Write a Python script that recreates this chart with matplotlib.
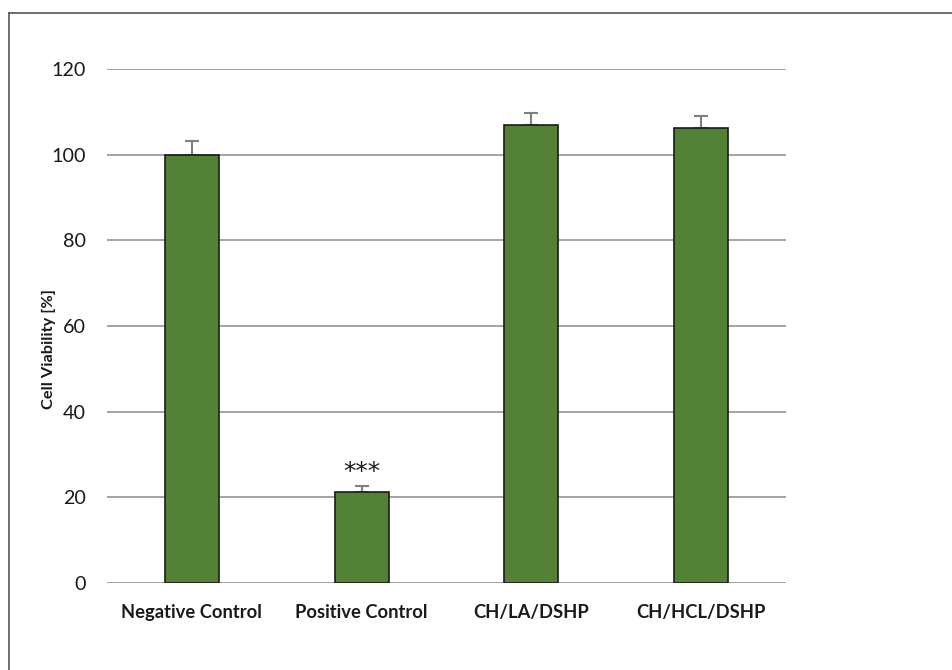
import matplotlib
matplotlib.use("Agg")
import matplotlib.pyplot as plt
from matplotlib.lines import Line2D
import numpy as np

categories = ["Negative Control", "Positive Control", "CH/LA/DSHP", "CH/HCL/DSHP"]
values = [100.0, 21.3, 106.9, 106.2]
errors = [3.2, 1.3, 2.9, 2.9]
yticks = [0, 20, 40, 60, 80, 100, 120]

plt.rcParams['font.family'] = ['Lato', 'DejaVu Sans']

fig = plt.figure(figsize=(9.53, 6.7), dpi=100)
ax = fig.add_axes([107/953, 1-582.7/670, (786-107)/953, (582.7-69.3)/670])

x = np.arange(len(categories))
ax.bar(x, values, width=0.318, color="#538135", edgecolor="#1a1a1a", linewidth=1.2, zorder=3)
ax.errorbar(x, values, yerr=[np.zeros(len(errors)), errors], fmt='none',
            ecolor="#7f7f7f", elinewidth=1.5, capsize=4.8, capthick=1.5, zorder=2)

ax.text(1, 25.9, "***", ha='center', va='center', fontsize=18, color="#1a1a1a",
        family=['DejaVu Sans'])

ax.set_xlim(-0.5, 3.5)
ax.set_ylim(0, 120)
ax.set_yticks(yticks)
ax.set_yticklabels([str(t) for t in yticks], fontsize=14.2, color="#1a1a1a")
ax.set_xticks(x)
ax.set_xticklabels(categories, fontsize=13.2, fontweight='bold', color="#1a1a1a")
ax.tick_params(axis='both', length=0)
ax.tick_params(axis='y', pad=15)
ax.tick_params(axis='x', pad=15)
for s in ax.spines.values():
    s.set_visible(False)
ax.yaxis.grid(True, color="#8a8a8a", linewidth=1.1, zorder=0)
ax.set_axisbelow(True)

ax.set_ylabel("Cell Viability [%]", fontsize=11.8, fontweight='bold', color="#1a1a1a", va='center')
ax.yaxis.set_label_coords((49-107)/(786-107), (582.7-349)/(582.7-69.3))

fig.add_artist(Line2D([9/953, 1.0], [1-13/670, 1-13/670], color="#555555", linewidth=1.2, transform=fig.transFigure))
fig.add_artist(Line2D([9/953, 9/953], [0.0, 1-13/670], color="#555555", linewidth=1.2, transform=fig.transFigure))

fig.savefig("out.png", dpi=100)
